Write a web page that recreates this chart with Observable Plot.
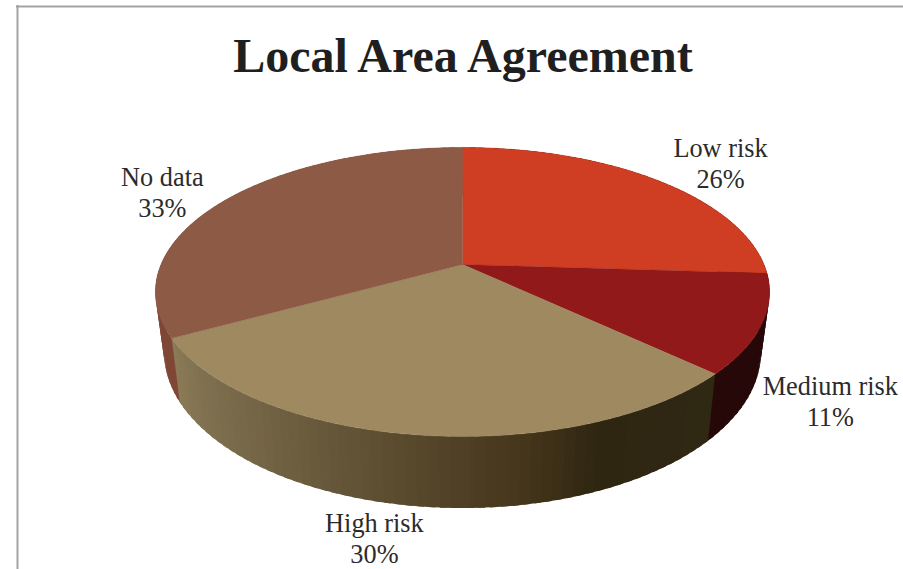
<!DOCTYPE html>
<html>
<head>
<meta charset="utf-8">
<script src="https://cdn.jsdelivr.net/npm/d3@7"></script>
<script src="https://cdn.jsdelivr.net/npm/@observablehq/plot@0.6"></script>
<style>
html,body{margin:0;padding:0;background:#fff;overflow:hidden}
svg{display:block}
</style>
</head>
<body>
<div id="chart"></div>
<script>
const titleText = "Local Area Agreement";
const categories = ["Low risk", "Medium risk", "High risk", "No data"];
const shares = [26, 11, 30, 33];
const topColors = ["#cf3e23", "#911919", "#9e8961", "#8d5a45"];
const labelDx = [63.5, 68.5, -41.5, -63.5];
const labelDy = [-17.5, 76.5, 102.5, -8.5];
const highWallX = [172, 200, 300, 430, 520, 600, 716];
const highWallColors = ["#8a7a55", "#7f7050", "#6b5c3e", "#54452a", "#46371c", "#2f2612", "#2f2813"];
const wallColors = ["#2a0909", "#270808", null, "#7f4736"];

// Camera: the pie is a unit circle seen in perspective
const cam = {x: 462, y: 264, a: 301.5, b: 139.3, k: -0.19, shrink: 0.972, depth: 58};
const rim = (t) => {
  const th = t / 100 * 2 * Math.PI;
  return [Math.sin(th), -Math.cos(th)];
};
const topPt = (t) => {
  const [u, v] = rim(t), w = 1 + cam.k * v;
  return [cam.x + cam.a * u / w, cam.y + cam.b * v / w];
};
const botPt = (t) => {
  const [u, v] = rim(t), w = 1 + cam.k * v;
  return [cam.x + cam.shrink * cam.a * u / w, cam.y + (cam.b * v + cam.depth) / w];
};

const highRamp = d3.scaleLinear().domain(highWallX).range(highWallColors).clamp(true);
const cum = d3.cumsum(shares);
const step = 0.25;
const wallStep = 0.5;
const overlap = wallStep * 0.6;

// Side wall facets, far ones first
const wallQuads = [];
shares.forEach((s, i) => {
  const start = cum[i] - s;
  const n = Math.round(s / wallStep);
  for (let j = 0; j < n; j++) {
    const t0 = start + j * wallStep;
    const t1 = t0 + wallStep;
    const color = wallColors[i] || highRamp(topPt((t0 + t1) / 2)[0]);
    wallQuads.push({t0, t1, color, key: rim((t0 + t1) / 2)[1]});
  }
});
wallQuads.sort((a, b) => a.key - b.key);
// each facet runs slightly under its nearer neighbour, so no seams show
const wallPts = wallQuads.flatMap((q, id) => {
  const goesNear = rim(q.t0)[1] < rim(q.t1)[1];
  const t0 = goesNear ? q.t0 : q.t0 - overlap;
  const t1 = goesNear ? q.t1 + overlap : q.t1;
  return [topPt(t0), topPt(t1), botPt(t1), botPt(t0)].map(([x, y]) => ({id, x, y, color: q.color}));
});

// Top face slices
const slicePts = shares.flatMap((s, i) => {
  const start = cum[i] - s;
  const pts = [{id: i, x: cam.x, y: cam.y, color: topColors[i]}];
  const n = Math.round(s / step);
  for (let j = 0; j <= n; j++) {
    const [x, y] = topPt(start + j * step);
    pts.push({id: i, x, y, color: topColors[i]});
  }
  return pts;
});

const labels = shares.map((s, i) => {
  const [x, y] = topPt(cum[i] - s / 2);
  return {x: x + labelDx[i], y: y + labelDy[i], text: `${categories[i]}\n${s}%`};
});

const chart = Plot.plot({
  width: 903, height: 569,
  margin: 0,
  x: {type: "linear", domain: [0, 903], range: [0, 903], axis: null},
  y: {type: "linear", domain: [0, 569], range: [0, 569], axis: null},
  style: {background: "#fff"},
  marks: [
    Plot.ruleY([6], {x1: 16, x2: 903, stroke: "#a3a3a3", strokeWidth: 2}),
    Plot.ruleX([17], {y1: 5, y2: 569, stroke: "#a3a3a3", strokeWidth: 2}),
    Plot.line(wallPts, {x: "x", y: "y", z: "id", fill: "color", curve: "linear-closed"}),
    Plot.line(slicePts, {x: "x", y: "y", z: "id", fill: "color", stroke: "color", strokeWidth: 0.4, curve: "linear-closed"}),
    Plot.text(labels, {x: "x", y: "y", text: "text", fontFamily: "Liberation Serif", fontSize: 26.3, lineHeight: 1.18, fill: "#2b2b2b", textAnchor: "middle"}),
    Plot.text([titleText], {x: () => 462.5, y: () => 56, text: d => d, fontFamily: "Liberation Serif", fontWeight: "bold", fontSize: 48, fill: "#1f1f1f", textAnchor: "middle"})
  ]
});
document.getElementById("chart").append(chart);
</script>
</body>
</html>
